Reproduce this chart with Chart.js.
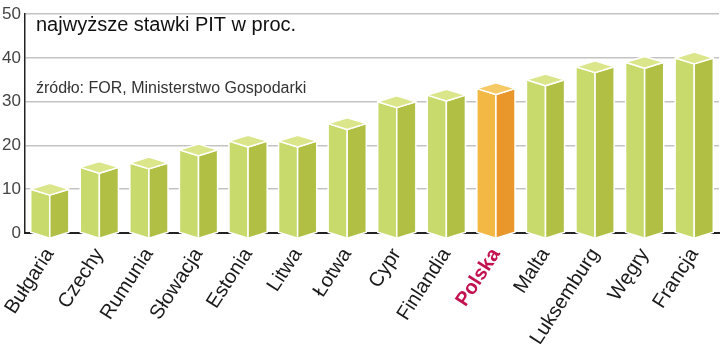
<!DOCTYPE html>
<html>
<head>
<meta charset="utf-8">
<script src="https://cdn.jsdelivr.net/npm/chart.js@4/dist/chart.umd.min.js"></script>
<style>
  html, body { margin: 0; padding: 0; background: #fff; }
  #wrap { width: 720px; height: 344px; }
</style>
</head>
<body>
<div id="wrap"><canvas id="chart"></canvas></div>
<script>
// data
const countries = ['Bułgaria', 'Czechy', 'Rumunia', 'Słowacja', 'Estonia', 'Litwa', 'Łotwa',
  'Cypr', 'Finlandia', 'Polska', 'Malta', 'Luksemburg', 'Węgry', 'Francja'];
const topRates = [10, 15, 16, 19, 21, 21, 25, 30, 31.5, 33, 35, 38, 39, 40];
const yTicks = [0, 10, 20, 30, 40, 50];
const highlight = 'Polska';

const title = 'najwyższe stawki PIT w proc.';
const source = 'źródło: FOR, Ministerstwo Gospodarki';

// face colours: left, right, top
const greenFaces = ['#c8da6c', '#b1c044', '#dbe68b'];
const orangeFaces = ['#f3b843', '#e9972b', '#f6c964'];

// draws every bar as a little box, using the positions the bar elements got from the scales
const box3d = {
  id: 'box3d',
  afterDatasetsDraw(chart) {
    const ctx = chart.ctx;
    const meta = chart.getDatasetMeta(0);
    meta.data.forEach((bar, i) => {
      const faces = countries[i] === highlight ? orangeFaces : greenFaces;
      const hw = bar.width / 2;
      const d = hw * 0.31;
      const x = bar.x, y = bar.y, b = bar.base;
      ctx.save();
      ctx.strokeStyle = '#ffffff';
      ctx.lineWidth = 1.5;
      ctx.lineJoin = 'round';
      const poly = (pts, fill) => {
        ctx.beginPath();
        ctx.moveTo(pts[0][0], pts[0][1]);
        for (let k = 1; k < pts.length; k++) ctx.lineTo(pts[k][0], pts[k][1]);
        ctx.closePath();
        ctx.fillStyle = fill;
        ctx.fill();
        ctx.stroke();
      };
      poly([[x - hw, y], [x, y + d], [x, b + d], [x - hw, b]], faces[0]);
      poly([[x, y + d], [x + hw, y], [x + hw, b], [x, b + d]], faces[1]);
      poly([[x - hw, y], [x, y - d], [x + hw, y], [x, y + d]], faces[2]);
      ctx.restore();
    });
  }
};

// heading and source note in the top left of the plot
const notes = {
  id: 'notes',
  afterDraw(chart) {
    const ctx = chart.ctx;
    const left = chart.chartArea.left + 11;
    ctx.save();
    ctx.textAlign = 'left';
    ctx.textBaseline = 'alphabetic';
    ctx.fillStyle = '#111';
    ctx.font = '20px "Liberation Sans", Arial, sans-serif';
    ctx.fillText(title, left, 31);
    ctx.fillStyle = '#333';
    ctx.font = '16px "Liberation Sans", Arial, sans-serif';
    ctx.fillText(source, left, 93);
    ctx.restore();
  }
};

new Chart('chart', {
  type: 'bar',
  data: {
    labels: countries,
    datasets: [{
      data: topRates,
      backgroundColor: 'rgba(0,0,0,0)', // the boxes are painted by the plugin
      borderWidth: 0,
      barPercentage: 0.77,
      categoryPercentage: 1
    }]
  },
  options: {
    responsive: true,
    maintainAspectRatio: false,
    animation: false,
    layout: { padding: { top: 8, right: 1, left: 0, bottom: 0 } },
    plugins: { legend: { display: false }, tooltip: { enabled: false } },
    scales: {
      x: {
        offset: true,
        grid: { display: false },
        border: { display: true, color: '#222', width: 2 },
        ticks: {
          autoSkip: false,
          maxRotation: 57,
          minRotation: 57,
          padding: 3,
          color: c => countries[c.index] === highlight ? '#c4124f' : '#1a1a1a',
          font: c => ({
            family: '"Liberation Sans", Arial, sans-serif',
            size: 20,
            weight: countries[c.index] === highlight ? 'bold' : 'normal'
          })
        },
        afterFit: s => { s.height = 111; }
      },
      y: {
        min: 0,
        max: 50,
        afterBuildTicks: s => { s.ticks = yTicks.map(v => ({ value: v })); },
        grid: {
          color: c => c.tick.value === 0 ? 'rgba(0,0,0,0)' : '#c3c3c3',
          lineWidth: 1.5,
          drawTicks: false
        },
        border: { display: true, color: '#222', width: 1.5 },
        ticks: {
          padding: 4,
          color: '#444',
          font: { family: '"Liberation Sans", Arial, sans-serif', size: 17 }
        },
        afterFit: s => { s.width = 25; }
      }
    }
  },
  plugins: [box3d, notes]
});
</script>
</body>
</html>
